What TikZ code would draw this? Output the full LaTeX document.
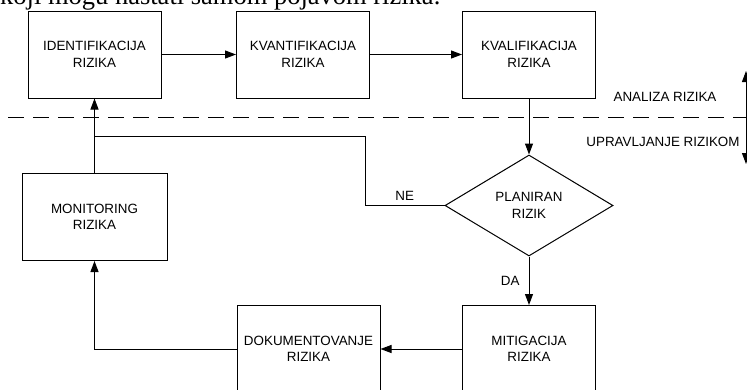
\documentclass[tikz,border=0pt]{standalone}
\usepackage{fontspec}
\setmainfont{Liberation Sans}
\newfontfamily\tekstserif{Liberation Serif}
\usetikzlibrary{shapes.geometric,arrows.meta}

\newcommand{\tekst}{\fontsize{13.4}{16.5}\selectfont}

\tikzset{
  korak/.style={draw,line width=1pt,minimum width=133pt,minimum height=87pt,
                align=center,font=\tekst},
  odluka/.style={draw,diamond,line width=1pt,minimum width=168pt,minimum height=101pt,
                 inner sep=0pt,align=center,font=\tekst},
  strela/.style={line width=1pt,-{Triangle[length=11pt,width=8pt]}},
  natpis/.style={font=\tekst,inner sep=0pt}
}

\begin{document}
\begin{tikzpicture}[x=1pt,y=-1pt]
  \useasboundingbox (0,0) rectangle (747,389);
  \node[anchor=base west,inner sep=0pt,font=\tekstserif\fontsize{26.5}{30}\selectfont]
        (uvod) at (0,4) {koji mogu nastati samom pojavom rizika.};
  % analiza rizika
  \node[korak]                  (ident) at (94.5,54.5) {IDENTIFIKACIJA\\RIZIKA};
  \node[korak]                  (kvant) at (303,54.5)  {KVANTIFIKACIJA\\RIZIKA};
  \node[korak]                  (kval)  at (529,54.5)  {KVALIFIKACIJA\\RIZIKA};
  % upravljanje rizikom
  \node[odluka]                 (plan)  at (529,205.5) {PLANIRAN\\RIZIK};
  \node[korak]                  (mitig) at (529,349)   {MITIGACIJA\\RIZIKA};
  \node[korak,minimum width=143pt] (dok) at (308.5,349) {DOKUMENTOVANJE\\RIZIKA};
  \node[korak,minimum width=145pt] (monit) at (94.5,217) {MONITORING\\RIZIKA};
  \coordinate (ne) at (365,136);
  \draw[strela] (ident) -- (kvant);
  \draw[strela] (kvant) -- (kval);
  \draw[strela] (kval)  -- (plan);
  \draw[strela] (plan)  -- node[natpis,left=9pt] {DA} (mitig);
  \draw[strela] (mitig) -- (dok);
  \draw[strela] (dok.west) -| (monit.south);
  \draw[strela] (monit.north) -- (ident.south);
  \draw[line width=1pt] (plan.west) -- node[natpis,above=5pt,pos=0.5] {NE} (plan.west -| ne)
                         -- (ne) -- (ne -| ident.south);
  % granica
  \draw[line width=1pt,dash pattern=on 16pt off 9pt] (8,117) -- (747,117);
  \node[natpis] (analiza)  at (665,97)  {ANALIZA RIZIKA};
  \node[natpis] (upravlj)  at (663,142) {UPRAVLJANJE RIZIKOM};
  \draw[line width=1pt,{Triangle[length=11pt,width=8pt]}-{Triangle[length=11pt,width=8pt]}]
        (746,71) -- (746,164);
\end{tikzpicture}
\end{document}
